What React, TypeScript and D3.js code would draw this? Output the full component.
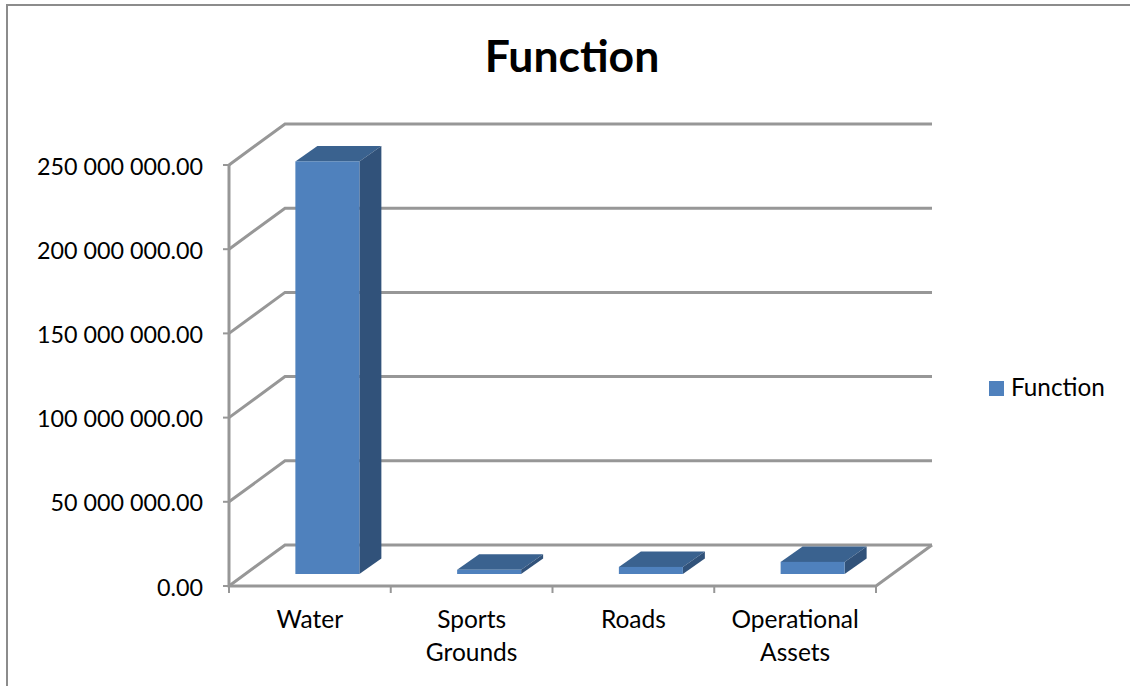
import React from "react";
import * as d3 from "d3";

const categories = ["Water", "Sports Grounds", "Roads", "Operational Assets"];
const categoryLines = [["Water"], ["Sports", "Grounds"], ["Roads"], ["Operational", "Assets"]];
const seriesName = "Function";
const values = [245000000, 2500000, 4200000, 7200000];
const ticks = [0, 50000000, 100000000, 150000000, 200000000, 250000000];

const W = 1130;
const H = 686;
const FONT = "Lato, 'Open Sans', sans-serif";
const GRID = "#979797";
const FRONT = "#4f81bd";
const TOP = "#3a628f";
const SIDE = "#31527a";

// Oblique projection: the floor and walls are shifted by this offset towards the back.
const wallDx = 56;
const wallDy = -41;
const barDx = 22;
const barDy = -15.5;
// Bars stand part-way into the floor's depth, so they sit up and to the right of the front edge.
const barFloorX = 16;
const barFloorY = -12;
const barWidth = 64;

const x = d3.scaleBand<string>().domain(categories).range([229, 876]);
const y = d3.scaleLinear().domain([0, 250000000]).range([586, 165]);

const fmt = (v: number) => d3.format(",.2f")(v).replace(/,/g, " ");

export default function App() {
  const left = x.range()[0];
  const right = x.range()[1];
  const floor = y(0);
  const line = d3.line();
  return (
    <svg width={W} height={H} style={{ position: "absolute", left: 0, top: 0, background: "#fff" }} fontFamily={FONT}>
      <path d={`M7 ${H}V5H${W}`} fill="none" stroke="#8c8c8c" strokeWidth={2} />
      <text x={572} y={72} textAnchor="middle" fontSize={44.5} fontWeight={700} fill="#000">{seriesName}</text>

      {ticks.map((t) => (
        <g key={t} fill="none" stroke={GRID} strokeWidth={3}>
          <path d={line([[left, y(t)], [left + wallDx, y(t) + wallDy], [right + wallDx, y(t) + wallDy]])!} />
          <path d={`M${left - 6} ${y(t)}H${left}`} strokeWidth={2} />
        </g>
      ))}
      <path d={`M${left} ${y(250000000)}V${floor}H${right}L${right + wallDx} ${floor + wallDy}`} fill="none" stroke={GRID} strokeWidth={3} />
      {[...categories.map((c) => x(c)!), right].map((px) => (
        <path key={px} d={`M${px} ${floor}v7`} stroke={GRID} strokeWidth={2} fill="none" />
      ))}

      {categories.map((c, i) => {
        const x0 = x(c)! + (x.bandwidth() - barWidth) / 2 + 1.5 + barFloorX;
        const x1 = x0 + barWidth;
        const yb = floor + barFloorY;
        const yt = y(values[i]) + barFloorY;
        return (
          <g key={c}>
            <path d={line([[x0, yt], [x0 + barDx, yt + barDy], [x1 + barDx, yt + barDy], [x1, yt]])! + "Z"} fill={TOP} />
            <path d={line([[x1, yt], [x1 + barDx, yt + barDy], [x1 + barDx, yb + barDy], [x1, yb]])! + "Z"} fill={SIDE} />
            <rect x={x0} y={yt} width={barWidth} height={yb - yt} fill={FRONT} />
          </g>
        );
      })}

      {ticks.map((t) => (
        <text key={t} x={203} y={y(t) + 9.5} textAnchor="end" fontSize={23.3} fill="#000">{fmt(t)}</text>
      ))}
      {categories.map((c, i) => (
        <text key={c} textAnchor="middle" fontSize={24.5} fill="#000">
          {categoryLines[i].map((l, j) => (
            <tspan key={l} x={x(c)! + x.bandwidth() / 2} y={628 + j * 33}>{l}</tspan>
          ))}
        </text>
      ))}

      <rect x={989} y={381} width={15} height={15} fill={FRONT} />
      <text x={1011} y={396} fontSize={24.3} fill="#000">{seriesName}</text>
    </svg>
  );
}
